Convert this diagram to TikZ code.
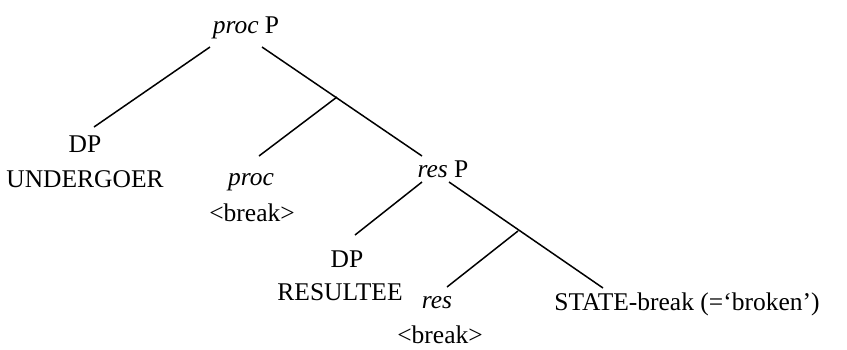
\documentclass[tikz,border=0pt]{standalone}
\usepackage{fontspec}
\setmainfont{Liberation Serif}
\begin{document}
\begin{tikzpicture}[x=1pt,y=-1pt,
  lbl/.style={anchor=base,inner sep=0pt,font=\fontsize{25.5}{30}\selectfont},
  edge/.style={line width=1.5pt}]
\useasboundingbox (0,0) rectangle (847,349);
\node[lbl] (procP) at (246,33) {\textit{proc} P};
\node[lbl] (dp1) at (85,152) {DP};
\node[lbl] (und) at (85,187) {UNDERGOER};
\node[lbl] (proc) at (251,185) {\textit{proc}};
\node[lbl] (brk1) at (252,221) {<break>};
\node[lbl] (resP) at (443,177) {\textit{res} P};
\node[lbl] (dp2) at (347,267) {DP};
\node[lbl] (resu) at (340,300) {RESULTEE};
\node[lbl] (res) at (437,308) {\textit{res}};
\node[lbl] (brk2) at (440,343) {<break>};
\node[lbl] (state) at (687,310) {STATE-break (=‘broken’)};
\coordinate (t1) at (210,47);
\coordinate (t2) at (262,47);
\coordinate (a1) at (94,127);
\coordinate (b1) at (337,97);
\coordinate (c1) at (259,156);
\coordinate (r0) at (422,156);
\coordinate (r1) at (422,182);
\coordinate (r2) at (449,182);
\coordinate (d2) at (355,235);
\coordinate (b2) at (518,231);
\coordinate (e2) at (447,287);
\coordinate (s2) at (603,288);
\draw[edge] (t1) -- (a1);
\draw[edge] (t2) -- (r0);
\draw[edge] (b1) -- (c1);
\draw[edge] (r1) -- (d2);
\draw[edge] (r2) -- (s2);
\draw[edge] (b2) -- (e2);
\end{tikzpicture}
\end{document}
